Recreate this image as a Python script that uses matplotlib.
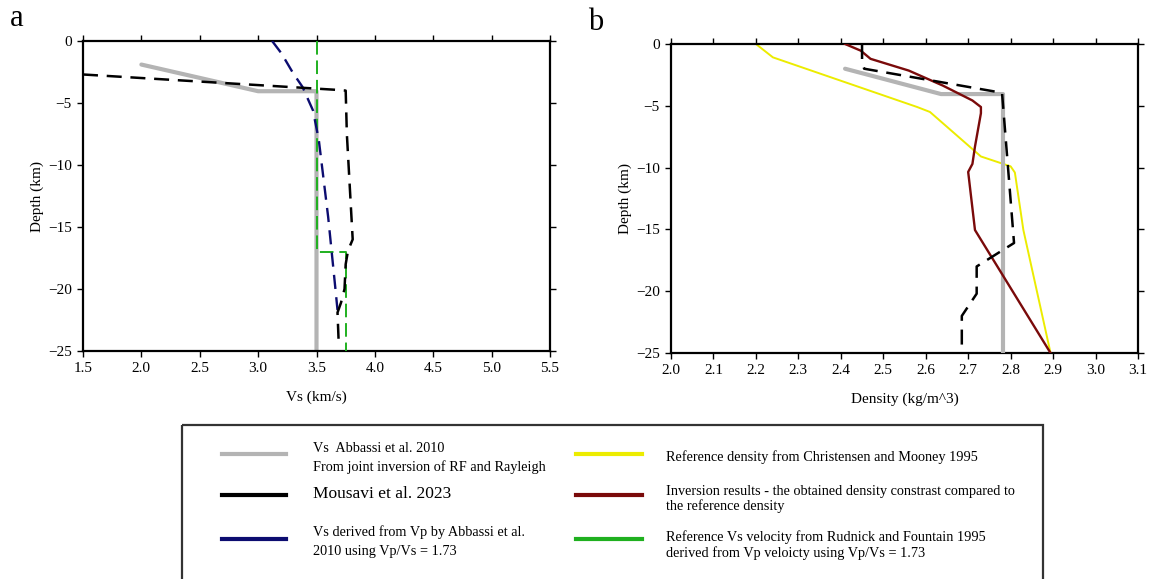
import matplotlib
matplotlib.use("Agg")
import matplotlib.pyplot as plt
from matplotlib.patches import Rectangle
from matplotlib.lines import Line2D

plt.rcParams['font.family'] = ['Liberation Serif', 'DejaVu Serif']
plt.rcParams['axes.unicode_minus'] = True

W, H = 1151, 579

# ---------- panel a : Vs profiles ----------
abbassi_vs = [2.0, 3.0, 3.5, 3.5]
abbassi_vs_z = [-1.9, -4.05, -4.05, -25.0]

mousavi_vs = [1.5, 3.69, 3.75, 3.76, 3.81, 3.77, 3.75, 3.74, 3.71, 3.68, 3.69]
mousavi_vs_z = [-2.7, -3.95, -4.0, -7.5, -16.0, -16.9, -18.0, -20.0, -21.1, -21.9, -24.3]

vp_vs = [3.12, 3.2, 3.3, 3.38, 3.47, 3.52, 3.60, 3.66, 3.68]
vp_vs_z = [0.0, -1.0, -2.6, -3.7, -5.6, -8.0, -14.2, -19.8, -21.7]

rudnick_vs = [3.5, 3.5, 3.75, 3.75]
rudnick_vs_z = [0.0, -17.0, -17.0, -25.0]

# ---------- panel b : density profiles ----------
christensen_rho = [2.2, 2.24, 2.58, 2.61, 2.73, 2.80, 2.81, 2.83, 2.894]
christensen_z = [0.0, -1.08, -5.1, -5.5, -9.1, -9.9, -10.4, -15.05, -25.0]

inversion_rho = [2.41, 2.447, 2.47, 2.56, 2.64, 2.71, 2.73, 2.73, 2.716, 2.71, 2.70, 2.716, 2.894]
inversion_z = [0.0, -0.54, -1.2, -2.15, -3.36, -4.57, -5.1, -5.6, -8.3, -9.7, -10.35, -15.05, -25.0]

abbassi_rho = [2.41, 2.636, 2.782, 2.782]
abbassi_rho_z = [-2.0, -4.05, -4.05, -25.0]

mousavi_rho = [2.45, 2.45, 2.455, 2.78, 2.78, 2.808, 2.72, 2.72, 2.685, 2.685]
mousavi_rho_z = [0.0, -1.48, -2.0, -3.95, -4.05, -16.1, -18.0, -20.2, -22.0, -25.0]

GREY = "#b4b4b4"
BLACK = "#000000"
NAVY = "#0c0c70"
GREEN = "#1fb01f"
YELLOW = "#ecec00"
DRED = "#7a0a0a"

legend_left = [
    (GREY, ["Vs  Abbassi et al. 2010", "From joint inversion of RF and Rayleigh"]),
    (BLACK, ["Mousavi et al. 2023"]),
    (NAVY, ["Vs derived from Vp by Abbassi et al.", "2010 using Vp/Vs = 1.73"]),
]
legend_right = [
    (YELLOW, ["Reference density from Christensen and Mooney 1995"]),
    (DRED, ["Inversion results - the obtained density constrast compared to",
            "the reference density"]),
    (GREEN, ["Reference Vs velocity from Rudnick and Fountain 1995",
             "derived from Vp veloicty using Vp/Vs = 1.73"]),
]

fig = plt.figure(figsize=(W / 100, H / 100), dpi=100)
fig.patch.set_facecolor("white")


def frac(l, t, r, b):
    return [l / W, 1 - b / H, (r - l) / W, (b - t) / H]


def style(ax):
    for s in ax.spines.values():
        s.set_linewidth(1.6)
    ax.tick_params(direction="out", length=4, width=1.0, labelsize=11,
                   top=True, right=True, pad=4)
    ax.set_ylim(-25, 0)
    ax.set_yticks([-25, -20, -15, -10, -5, 0])
    ax.set_ylabel("Depth (km)", fontsize=11, labelpad=3)


ax1 = fig.add_axes(frac(83, 41, 550, 351))
ax1.plot(abbassi_vs, abbassi_vs_z, color=GREY, lw=3, solid_capstyle="round", zorder=2)
ax1.plot(rudnick_vs, rudnick_vs_z, color=GREEN, lw=1.4, dashes=(7, 3), zorder=3)
ax1.plot(vp_vs, vp_vs_z, color=NAVY, lw=1.7, dashes=(6, 3.5), zorder=4)
ax1.plot(mousavi_vs, mousavi_vs_z, color=BLACK, lw=1.8, dashes=(6, 3.5), zorder=5)
ax1.set_xlim(1.5, 5.5)
ax1.set_xticks([1.5, 2.0, 2.5, 3.0, 3.5, 4.0, 4.5, 5.0, 5.5])
ax1.set_xlabel("Vs (km/s)", fontsize=11, labelpad=11)
style(ax1)

ax2 = fig.add_axes(frac(671, 44, 1138, 353))
ax2.plot(christensen_rho, christensen_z, color=YELLOW, lw=1.4, zorder=2)
ax2.plot(abbassi_rho, abbassi_rho_z, color=GREY, lw=3, solid_capstyle="round", zorder=3)
ax2.plot(inversion_rho, inversion_z, color=DRED, lw=1.7, zorder=4)
ax2.plot(mousavi_rho, mousavi_rho_z, color=BLACK, lw=1.8, dashes=(6, 3.5), zorder=5)
ax2.set_xlim(2.0, 3.1)
ax2.set_xticks([2.0, 2.1, 2.2, 2.3, 2.4, 2.5, 2.6, 2.7, 2.8, 2.9, 3.0, 3.1])
ax2.set_xlabel("Density (kg/m^3)", fontsize=11, labelpad=11)
style(ax2)

fig.text(17 / W, 1 - 18 / H, "a", fontsize=22, ha="center", va="center")
fig.text(596 / W, 1 - 22 / H, "b", fontsize=22, ha="center", va="center")

# ---------- legend box (pixel coordinates) ----------
lg = fig.add_axes([0, 0, 1, 1], zorder=-1)
lg.set_xlim(0, W)
lg.set_ylim(H, 0)
lg.axis("off")
lg.add_patch(Rectangle((182, 425), 1043 - 182, 170, fill=False,
                       edgecolor="#333333", lw=1.6))

rows_y = [454, 495, 539]
for (c, lines), y in zip(legend_left, rows_y):
    lg.add_line(Line2D([222, 286], [y, y], color=c, lw=3))
for (c, lines), y in zip(legend_right, rows_y):
    lg.add_line(Line2D([576, 642], [y, y], color=c, lw=3))

fs = 10.3
lg.text(313, 448, legend_left[0][1][0], fontsize=fs, va="center")
lg.text(313, 467, legend_left[0][1][1], fontsize=fs, va="center")
lg.text(313, 494, legend_left[1][1][0], fontsize=12.5, va="center")
lg.text(313, 532, legend_left[2][1][0], fontsize=fs, va="center")
lg.text(313, 552, legend_left[2][1][1], fontsize=fs, va="center")

lg.text(666, 457, legend_right[0][1][0], fontsize=fs, va="center")
lg.text(666, 491, legend_right[1][1][0], fontsize=fs, va="center")
lg.text(666, 506, legend_right[1][1][1], fontsize=fs, va="center")
lg.text(666, 537, legend_right[2][1][0], fontsize=fs, va="center")
lg.text(666, 553, legend_right[2][1][1], fontsize=fs, va="center")

fig.savefig("out.png", dpi=100, facecolor="white")
